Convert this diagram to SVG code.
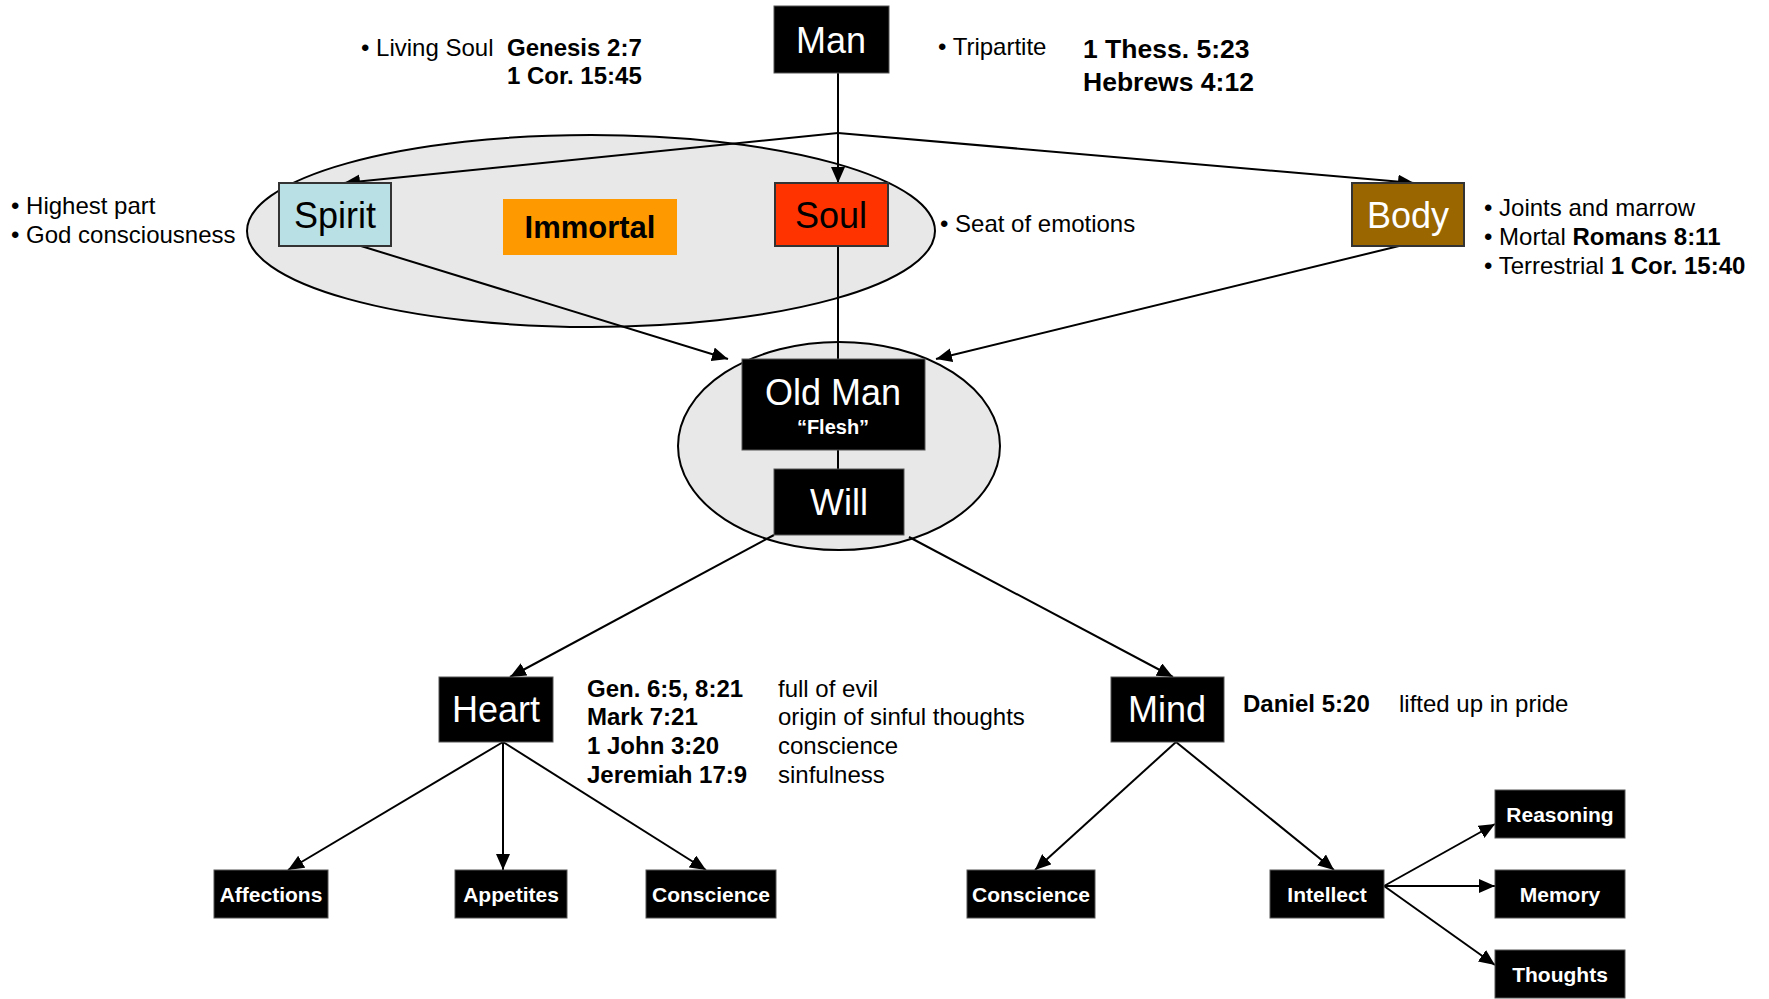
<svg xmlns="http://www.w3.org/2000/svg" width="1769" height="999" viewBox="0 0 1769 999">
<defs>
<marker id="ah" viewBox="0 0 16 14" refX="16" refY="7" markerWidth="16" markerHeight="14" markerUnits="userSpaceOnUse" orient="auto">
<path d="M0,0 L16,7 L0,14 Z" fill="#000"/>
</marker>
</defs>
<style>
text{font-family:"Liberation Sans",Arial,sans-serif;fill:#000}
.ann{font-size:24px}
.b{font-weight:bold}
.big{font-size:36px;text-anchor:middle}
.sm{font-size:21px;font-weight:bold;fill:#fff;text-anchor:middle}
.w{fill:#fff}
.blk{fill:#000;stroke:#555;stroke-width:1}
.con line,.con polyline{stroke:#000;stroke-width:2;fill:none}
.arr{marker-end:url(#ah)}
</style>
<rect width="1769" height="999" fill="#fff"/>

<g id="ellipses">
<ellipse cx="591" cy="231" rx="344" ry="96" fill="#E8E8E8" stroke="#000" stroke-width="2"/>
<ellipse cx="839" cy="446" rx="161" ry="104" fill="#E8E8E8" stroke="#000" stroke-width="2"/>
</g>

<g class="con" id="connectors">
<line x1="838" y1="73" x2="838" y2="183" class="arr"/>
<line x1="838" y1="133" x2="344" y2="183" class="arr"/>
<line x1="838" y1="133" x2="1414" y2="183" class="arr"/>
<line x1="838" y1="246" x2="838" y2="359"/>
<line x1="361" y1="246" x2="728" y2="359" class="arr"/>
<line x1="1399" y1="246" x2="936" y2="359" class="arr"/>
<line x1="838" y1="450" x2="838" y2="469"/>
<line x1="774" y1="535" x2="510" y2="677" class="arr"/>
<line x1="909" y1="537" x2="1173" y2="677" class="arr"/>
<line x1="503" y1="742" x2="288" y2="870" class="arr"/>
<line x1="503" y1="742" x2="503" y2="870" class="arr"/>
<line x1="503" y1="742" x2="706" y2="870" class="arr"/>
<line x1="1176" y1="742" x2="1035" y2="870" class="arr"/>
<line x1="1176" y1="742" x2="1334" y2="870" class="arr"/>
<line x1="1384" y1="886" x2="1495" y2="824" class="arr"/>
<line x1="1384" y1="886" x2="1495" y2="886" class="arr"/>
<line x1="1384" y1="886" x2="1495" y2="965" class="arr"/>
</g>

<g id="man"><rect x="774" y="6" width="115" height="67" class="blk"/><text x="831" y="53" class="big w">Man</text></g>
<g id="spirit"><rect x="279" y="183" width="112" height="63" fill="#B9E0E4" stroke="#333" stroke-width="2"/><text x="335" y="228" class="big">Spirit</text></g>
<g id="immortal"><rect x="503" y="199" width="174" height="56" fill="#FF9900"/><text x="590" y="238" font-size="31" font-weight="bold" text-anchor="middle">Immortal</text></g>
<g id="soul"><rect x="775" y="183" width="113" height="63" fill="#FF3300" stroke="#333" stroke-width="2"/><text x="831" y="228" class="big">Soul</text></g>
<g id="body"><rect x="1352" y="183" width="112" height="63" fill="#996600" stroke="#333" stroke-width="2"/><text x="1408" y="228" class="big w">Body</text></g>
<g id="oldman"><rect x="742" y="359" width="183" height="91" class="blk"/><text x="833" y="405" class="big w">Old Man</text><text x="833" y="434" font-size="20" font-weight="bold" text-anchor="middle" class="w">“Flesh”</text></g>
<g id="will"><rect x="774" y="469" width="130" height="66" class="blk"/><text x="839" y="515" class="big w">Will</text></g>
<g id="heart"><rect x="439" y="677" width="114" height="65" class="blk"/><text x="496" y="722" class="big w">Heart</text></g>
<g id="mind"><rect x="1111" y="677" width="113" height="65" class="blk"/><text x="1167" y="722" class="big w">Mind</text></g>
<g id="affections"><rect x="214" y="870" width="114" height="48" class="blk"/><text x="271" y="902" class="sm">Affections</text></g>
<g id="appetites"><rect x="455" y="870" width="112" height="48" class="blk"/><text x="511" y="902" class="sm">Appetites</text></g>
<g id="conscience1"><rect x="646" y="870" width="130" height="48" class="blk"/><text x="711" y="902" class="sm">Conscience</text></g>
<g id="conscience2"><rect x="967" y="870" width="128" height="48" class="blk"/><text x="1031" y="902" class="sm">Conscience</text></g>
<g id="intellect"><rect x="1270" y="870" width="114" height="48" class="blk"/><text x="1327" y="902" class="sm">Intellect</text></g>
<g id="reasoning"><rect x="1495" y="790" width="130" height="48" class="blk"/><text x="1560" y="822" class="sm">Reasoning</text></g>
<g id="memory"><rect x="1495" y="870" width="130" height="48" class="blk"/><text x="1560" y="902" class="sm">Memory</text></g>
<g id="thoughts"><rect x="1495" y="950" width="130" height="48" class="blk"/><text x="1560" y="982" class="sm">Thoughts</text></g>

<g id="annotations" class="ann">
<text x="361" y="56">• Living Soul</text>
<text x="507" y="56" class="b">Genesis 2:7</text>
<text x="507" y="84" class="b">1 Cor. 15:45</text>
<text x="938" y="55">• Tripartite</text>
<text x="1083" y="58" class="b" font-size="26.5">1 Thess. 5:23</text>
<text x="1083" y="91" class="b" font-size="26.5">Hebrews 4:12</text>
<text x="11" y="214">• Highest part</text>
<text x="11" y="243">• God consciousness</text>
<text x="940" y="232">• Seat of emotions</text>
<text x="1484" y="216">• Joints and marrow</text>
<text x="1484" y="245">• Mortal <tspan class="b">Romans 8:11</tspan></text>
<text x="1484" y="274">• Terrestrial <tspan class="b">1 Cor. 15:40</tspan></text>
<text x="587" y="697" class="b">Gen. 6:5, 8:21</text>
<text x="587" y="725" class="b">Mark 7:21</text>
<text x="587" y="754" class="b">1 John 3:20</text>
<text x="587" y="783" class="b">Jeremiah 17:9</text>
<text x="778" y="697">full of evil</text>
<text x="778" y="725">origin of sinful thoughts</text>
<text x="778" y="754">conscience</text>
<text x="778" y="783">sinfulness</text>
<text x="1243" y="712" class="b">Daniel 5:20</text>
<text x="1399" y="712">lifted up in pride</text>
</g>
</svg>
